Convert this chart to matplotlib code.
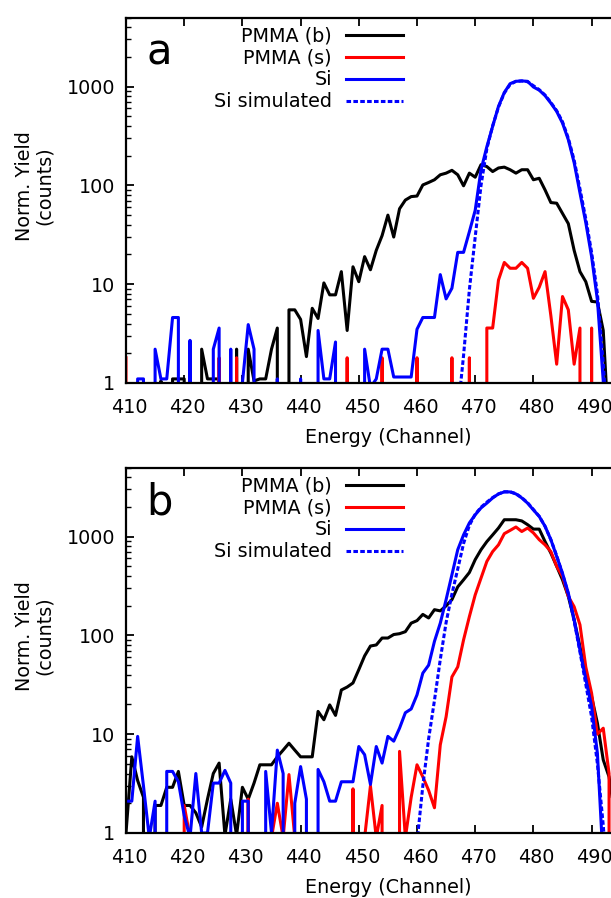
import numpy as np
import matplotlib
matplotlib.use("Agg")
import matplotlib.pyplot as plt
from matplotlib.ticker import FixedLocator, FixedFormatter, LogLocator, NullFormatter
from matplotlib.transforms import ScaledTranslation

# ---------------- data ----------------
channels = list(range(410, 496))

# panel a
a_pmma_b = [0, 0, 0, 0, 0, 0, 1.05, 0, 1.1, 1.1,
            1.1, 0, 0, 2.2, 1.1, 1.1, 1.1, 0, 0, 2.2,
            0, 2.2, 1.05, 1.1, 1.1, 2.2, 3.6, 0, 5.5, 5.5,
            4.4, 1.85, 5.7, 4.5, 10.3, 7.8, 7.8, 13.4, 3.4, 15,
            10.6, 19, 14, 22, 31, 50, 30, 58, 71, 77,
            78, 101, 107, 114, 128, 133, 142, 128, 99, 133,
            121, 162, 155, 138, 150, 153, 144, 133, 144, 144,
            114, 118, 90, 67, 66, 52, 41, 22, 13.4, 10.6,
            6.7, 6.6, 3.4, 0.3, 0, 0]
a_pmma_s = [1.8, 0, 0, 0, 0, 0, 0, 0, 0, 0,
            0, 0, 0, 0, 0, 0, 1.8, 0, 0, 1.8,
            0, 0, 0, 0, 0, 0, 0, 0, 0, 0,
            0, 0, 0, 0, 0, 0, 0, 0, 1.8, 0,
            0, 0, 0, 0, 1.8, 0, 0, 0, 0, 0,
            1.8, 0, 0, 0, 0, 0, 1.8, 0, 0, 1.8,
            0, 0, 3.6, 3.6, 11, 16.6, 14.5, 14.5, 16.6, 14.5,
            7.2, 9.3, 13.4, 4.8, 1.55, 7.5, 5.5, 1.55, 3.6, 0,
            3.6, 0, 0, 0, 0, 0]
a_si = [0, 0, 1.1, 1.1, 0, 2.2, 1.1, 1.1, 4.6, 4.6,
        0, 2.7, 0, 0, 0, 2.2, 3.6, 0, 2.2, 0,
        1.0, 3.9, 2.2, 0, 0, 0, 1.1, 0, 0, 0,
        1.1, 0, 0, 3.4, 1.1, 1.1, 2.6, 0, 0, 0,
        0, 2.2, 0.9, 1.1, 2.2, 2.2, 1.15, 1.15, 1.15, 1.15,
        3.5, 4.6, 4.6, 4.6, 12.5, 7.1, 9.1, 21, 21, 34,
        56, 144, 246, 396, 630, 870, 1070, 1130, 1140, 1130,
        990, 920, 810, 680, 560, 427, 290, 170, 84, 42,
        19, 6.9, 1.05, 0, 0, 0]
a_sim_channels = list(range(467, 494))
a_si_sim = [0.5, 1.9, 8.8, 30, 100, 235, 400, 620, 860, 1050,
            1130, 1140, 1120, 1020, 930, 820, 690, 570, 440, 300,
            180, 92, 46, 21, 8, 1.6, 0.2]

# panel b
b_pmma_b = [1.0, 5.9, 3.4, 2.3, 0, 1.9, 1.9, 2.9, 2.9, 4.2,
            1.9, 1.9, 1.6, 1.15, 2.2, 4.0, 5.1, 0.95, 2.2, 0.95,
            2.9, 2.2, 3.2, 4.9, 4.9, 4.9, 5.9, 6.9, 8.1, 6.9,
            5.9, 5.9, 5.9, 17, 14, 19.8, 15.5, 28, 30, 33,
            45, 62, 78, 80, 94, 94, 102, 104, 109, 133,
            141, 163, 150, 182, 177, 199, 230, 310, 365, 433,
            584, 736, 889, 1040, 1220, 1480, 1480, 1480, 1440, 1320,
            1190, 1190, 890, 680, 500, 365, 248, 144, 77, 38,
            24, 12.9, 5.5, 3.7, 1.5, 0]
b_pmma_s = [0, 0, 0, 0, 0, 0, 0, 0, 0, 0,
            1.9, 0.9, 0, 0, 0, 0, 0, 0, 0, 0,
            0, 2.2, 0, 0, 0, 0.9, 2.0, 0.9, 3.9, 0.9,
            0, 0, 0, 0, 0, 0, 0, 0, 0, 2.8,
            0, 0.9, 3.0, 0.9, 1.9, 0, 0, 6.7, 0.9, 2.3,
            4.9, 3.7, 2.7, 1.8, 7.8, 15, 38, 48, 90, 155,
            257, 380, 560, 705, 825, 1070, 1155, 1250, 1125, 1220,
            1090, 930, 825, 705, 500, 395, 248, 195, 128, 48,
            26, 10, 11.5, 4.0, 0, 0]
b_si = [2.1, 2.1, 9.5, 3.0, 0.9, 2.1, 0, 4.2, 4.2, 3.3,
        1.5, 0.9, 4.0, 1.0, 1.0, 3.2, 3.2, 4.3, 3.2, 0,
        2.1, 2.1, 0, 0, 4.2, 1.0, 6.9, 4.0, 0, 2.0,
        4.7, 2.2, 0, 4.4, 3.3, 2.1, 2.1, 3.3, 3.3, 3.3,
        7.5, 6.2, 3.1, 7.5, 5.1, 9.5, 8.5, 11.5, 16.5, 18,
        25, 41.5, 50, 87, 133, 230, 411, 736, 1040, 1375,
        1660, 1950, 2180, 2460, 2700, 2830, 2830, 2700, 2460, 2180,
        1860, 1600, 1270, 930, 630, 425, 268, 144, 71, 36,
        19, 6.4, 0.5, 0, 0, 0]
b_sim_channels = list(range(460, 494))
b_si_sim = [0.8, 3.0, 9, 22, 57, 135, 262, 470, 850, 1300,
            1680, 1980, 2230, 2480, 2700, 2840, 2840, 2720, 2480, 2200,
            1880, 1600, 1270, 930, 640, 420, 262, 140, 68, 32,
            15, 5, 1.2, 0.2]

series_labels = ["PMMA (b)", "PMMA (s)", "Si", "Si simulated"]
panel_letters = ["a", "b"]
x_ticks = [410, 420, 430, 440, 450, 460, 470, 480, 490, 500]
y_ticks = [1, 10, 100, 1000]
y_tick_labels = ["1", "10", "100", "1000"]
x_label = "Energy (Channel)"
y_label = "Norm. Yield\n(counts)"

# ---------------- figure ----------------
W, H = 611, 898
fig = plt.figure(figsize=(W / 100, H / 100), dpi=100)
FS = 13.8
LW = 2.2

def px_axes(left, top, right, bottom):
    return [left / W, 1 - bottom / H, (right - left) / W, (bottom - top) / H]

panels = [
    dict(rect=px_axes(126, 17.5, 649.8, 383),
         data=(a_pmma_b, a_pmma_s, a_si), sim=(a_sim_channels, a_si_sim), ylab_y=186),
    dict(rect=px_axes(126, 467.5, 649.8, 833),
         data=(b_pmma_b, b_pmma_s, b_si), sim=(b_sim_channels, b_si_sim), ylab_y=636),
]

for letter, p in zip(panel_letters, panels):
    ax = fig.add_axes(p["rect"])
    ax.set_yscale("log", nonpositive="clip")
    pb, ps, si = p["data"]
    ax.plot(channels, pb, color="black", lw=LW, label=series_labels[0])
    ax.plot(channels, ps, color="#ff0000", lw=LW, label=series_labels[1])
    ax.plot(channels, si, color="#0000ff", lw=LW, label=series_labels[2])
    ax.plot(p["sim"][0], p["sim"][1], color="#0000ff", lw=LW,
            dashes=(1.5, 0.75), label=series_labels[3])
    ax.set_xlim(410, 500)
    ax.set_ylim(1, 5000)

    ax.xaxis.set_major_locator(FixedLocator(x_ticks))
    ax.yaxis.set_major_locator(FixedLocator(y_ticks))
    ax.yaxis.set_major_formatter(FixedFormatter(y_tick_labels))
    ax.yaxis.set_minor_locator(LogLocator(base=10, subs=np.arange(2, 10)))
    ax.yaxis.set_minor_formatter(NullFormatter())
    ax.tick_params(axis="both", which="major", direction="in", length=6, width=1.3,
                   labelsize=FS, top=True, right=True)
    ax.tick_params(axis="y", which="minor", direction="in", length=3.5, width=1.0, right=True)
    ax.tick_params(axis="x", which="major", pad=11)
    ax.tick_params(axis="y", which="major", pad=8)
    for s in ax.spines.values():
        s.set_linewidth(1.6)
    shift = ScaledTranslation(3 / 100, 0, fig.dpi_scale_trans)
    for lab in ax.get_xticklabels():
        lab.set_transform(lab.get_transform() + shift)

    ax.set_xlabel(x_label, fontsize=FS, labelpad=8)
    fig.text(34.5 / W, 1 - p["ylab_y"] / H, y_label, rotation=90, ha="center", va="center",
             multialignment="center", fontsize=FS, linespacing=1.1)

    ax.text(0.063, 0.905, letter, transform=ax.transAxes, fontsize=30,
            ha="center", va="center")

    ax.legend(loc="upper right", bbox_to_anchor=((403 - 126) / 523.8, 0.975),
              markerfirst=False, frameon=False, fontsize=FS,
              handlelength=3.0, handletextpad=0.7, labelspacing=0.15,
              borderpad=0, borderaxespad=0)

fig.savefig("out.png", dpi=100)
